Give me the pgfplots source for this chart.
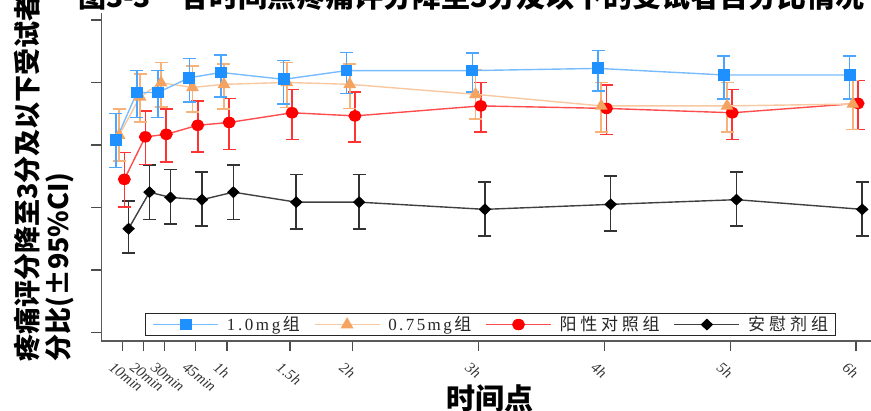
\documentclass[border=0pt]{standalone}
\usepackage{pgfplots}
\pgfplotsset{compat=1.18}
\usepackage{pgfplotstable}
\usepackage{fontspec}
\setmainfont{Liberation Serif}
\newfontfamily\cjk{Noto Sans CJK SC}

\definecolor{cblue}{RGB}{30,144,255}
\definecolor{corange}{RGB}{244,164,96}
\definecolor{cred}{RGB}{255,0,0}

\pgfplotstableread{
t y ep em
10 61.5 8.6 8.7
20 76.8 7.0 8.0
30 76.8 7.0 8.0
45 81.5 6.2 7.7
60 83.2 5.6 7.8
90 81.0 6.0 7.9
120 83.8 5.8 7.3
180 83.8 5.7 6.8
240 84.5 5.7 7.3
300 82.4 6.1 7.7
360 82.4 6.1 7.7
}\tblue

\pgfplotstableread{
t y ep em
10 63.1 8.4 8.2
20 75.4 7.3 8.0
30 79.9 6.5 7.7
45 78.4 6.9 7.8
60 79.4 6.5 7.9
90 80.0 6.4 8.0
120 79.4 6.5 7.7
180 76.2 7.8 7.9
240 72.5 7.5 8.3
300 72.5 7.5 8.3
360 73.1 7.5 8.1
}\torange

\pgfplotstableread{
t y ep em
10 49.0 8.6 8.8
20 62.6 8.3 8.9
30 63.4 8.1 8.8
45 66.3 7.8 8.5
60 67.2 7.7 8.7
90 70.3 7.5 8.6
120 69.3 7.7 8.3
180 72.5 7.5 8.3
240 71.7 7.5 8.3
300 70.3 7.5 8.6
360 73.3 7.3 8.3
}\tred

\pgfplotstableread{
t y ep em
10 33.2 8.9 7.8
20 44.9 8.6 8.8
30 43.2 8.9 8.4
45 42.5 8.9 8.5
60 44.9 8.6 8.8
90 41.7 8.9 8.6
120 41.7 8.9 8.6
180 39.4 8.8 8.5
240 41.0 9.0 8.5
300 42.5 8.9 8.5
360 39.4 8.8 8.5
}\tblack

\begin{document}
\begin{tikzpicture}[x=1pt,y=1pt]
\begin{axis}[
  at={(101.3pt,70pt)}, anchor=south west,
  scale only axis, width=786.1pt, height=327.6pt,
  xmin=0, xmax=375, ymin=-2.72, ymax=102.1,
  axis x line*=bottom, axis y line*=left,
  axis line style={line width=1.2pt, black!65},
  tick align=outside,
  major tick length=10pt,
  tick style={line width=1.2pt, black!70},
  ytick={0,20,40,60,80,100}, yticklabels={},
  xtick={10,20,30,45,60,90,120,180,240,300,360},
  xticklabels={10min,20min,30min,45min,1h,1.5h,2h,3h,4h,5h,6h},
  xticklabel style={font=\fontsize{15}{15}\selectfont\itshape, text=black!80, inner sep=0pt, xshift=-8pt, yshift=-10pt, anchor=north west, rotate=-38},
  legend style={at={(0.0556,0.0153)}, anchor=south west, legend columns=-1,
    draw=black!85, line width=1pt, inner xsep=7pt, inner ysep=3pt,
    font=\fontsize{17}{17}\selectfont, text=black!85,
    /tikz/every odd column/.append style={column sep=8pt},
    /tikz/every even column/.append style={column sep=14pt},
    nodes={inner sep=0pt}},
  legend image code/.code={\draw[mark repeat=2, mark phase=2, #1] plot coordinates {(0pt,0pt) (32.5pt,0pt) (65pt,0pt)};},
  reverse legend,
]
\addplot[draw=black!75, line width=1.4pt, mark=diamond*, mark size=5pt,
  mark options={solid, fill=black, draw=black, xscale=1.4},
  error bars/.cd, y dir=both, y explicit,
  error bar style={draw=black!80, line width=1.6pt},
  error mark options={solid, draw=black!80, mark size=6.5pt, line width=1.6pt, xscale=1, rotate=90}]
  table[x expr=\thisrow{t}+3, y=y, y error plus=ep, y error minus=em] {\tblack};
\addlegendentry{\makebox[80pt][s]{\cjk 安\hfill 慰\hfill 剂\hfill 组}}
\addplot[draw=red!70, line width=1.4pt, mark=*, mark size=5pt,
  mark options={solid, fill=cred, draw=cred, xscale=1.15},
  error bars/.cd, y dir=both, y explicit,
  error bar style={draw=red!80, line width=1.6pt},
  error mark options={solid, draw=red!80, mark size=6.5pt, line width=1.6pt, xscale=1, rotate=90}]
  table[x expr=\thisrow{t}+1, y=y, y error plus=ep, y error minus=em] {\tred};
\addlegendentry{\makebox[100pt][s]{\cjk 阳\hfill 性\hfill 对\hfill 照\hfill 组}}
\addplot[draw=corange!60, line width=1.4pt, mark=triangle*, mark size=6pt,
  mark options={solid, fill=corange, draw=corange},
  error bars/.cd, y dir=both, y explicit,
  error bar style={draw=corange!85, line width=1.6pt},
  error mark options={solid, draw=corange!85, mark size=6.5pt, line width=1.6pt, rotate=90}]
  table[x expr=\thisrow{t}-1.5, y=y, y error plus=ep, y error minus=em] {\torange};
\addlegendentry{\makebox[83pt][s]{0\hfill.\hfill7\hfill5\hfill m\hfill g\hfill{\cjk 组}}}
\addplot[draw=cblue!60, line width=1.4pt, mark=square*, mark size=5.2pt,
  mark options={solid, fill=cblue, draw=cblue},
  error bars/.cd, y dir=both, y explicit,
  error bar style={draw=cblue!80, line width=1.6pt},
  error mark options={solid, draw=cblue!80, mark size=6.5pt, line width=1.6pt, rotate=90}]
  table[x expr=\thisrow{t}-3, y=y, y error plus=ep, y error minus=em] {\tblue};
\addlegendentry{\makebox[73pt][s]{1\hfill.\hfill0\hfill m\hfill g\hfill{\cjk 组}}}
\end{axis}
\node[rotate=90, anchor=base west, inner sep=0pt, font=\fontsize{27}{27}\selectfont\cjk\bfseries] at (37,49) {疼痛评分降至3分及以下受试者百};
\node[rotate=90, anchor=base west, inner sep=0pt, font=\fontsize{27}{27}\selectfont\cjk\bfseries] at (68,49) {分比(±95\%CI)};
\node[anchor=north, inner sep=0pt, font=\fontsize{29}{29}\selectfont\cjk\bfseries] at (490,26) {时间点};
\node[anchor=base west, inner sep=0pt, font=\fontsize{28}{28}\selectfont\cjk\bfseries] at (78,403) {图3-3};
\node[anchor=base west, inner sep=0pt, font=\fontsize{29}{29}\selectfont\cjk\bfseries] at (180,403) {各时间点疼痛评分降至3分及以下的受试者百分比情况};
\pgfresetboundingbox
\useasboundingbox (0,0) rectangle (871,411);
\end{tikzpicture}
\end{document}
